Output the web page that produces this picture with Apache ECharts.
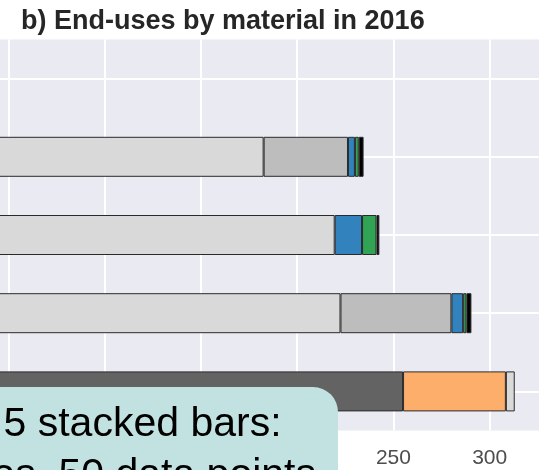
<!DOCTYPE html>
<html>
<head>
<meta charset="utf-8">
<script src="https://cdn.jsdelivr.net/npm/echarts@6/dist/echarts.min.js"></script>
<style>
html,body{margin:0;padding:0;background:#fff;overflow:hidden;width:539px;height:470px;position:relative;}
/* the chart is a crop: its plot area extends beyond the left and right edges of the window */
#chart{position:absolute;left:-88px;top:0;width:674px;height:470px;}
</style>
</head>
<body>
<div id="chart"></div>
<script>
// Categories (materials; their labels lie outside the visible crop)
const categories = ['Material 1', 'Material 2', 'Material 3', 'Material 4', 'Material 5'];
const xTicks = [0, 50, 100, 150, 200, 250, 300, 350];

// Segment values per series (one per category, null = absent)
const lightGrey = [30, 182.6, 219.5, 222.5, null];
const midGrey   = [null, 43.8, null, 57.6, null];
const blue      = [null, 3.6, 14.2, 6.1, null];
const green     = [null, 2.0, 7.5, 1.7, null];
const black     = [null, 2.5, 1.5, 2.6, null];
const darkGrey  = [null, null, null, null, 255];
const orange    = [null, null, null, null, 53.4];
const paleGrey  = [null, null, null, null, 4.6];

const titleText = 'b) End-uses by material in 2016';
const noteLine1 = '5 stacked bars:';
const noteLine2 = '10 series, 50 data points';

const seriesDefs = [
  ['lightGrey', lightGrey, '#d9d9d9'],
  ['midGrey', midGrey, '#bdbdbd'],
  ['blue', blue, '#3182bd'],
  ['green', green, '#31a354'],
  ['black', black, '#000000'],
  ['darkGrey', darkGrey, '#636363'],
  ['orange', orange, '#fdae6b'],
  ['paleGrey', paleGrey, '#d9d9d9']
];

const OFF = 88; // chart canvas starts 88px left of the window
const chart = echarts.init(document.getElementById('chart'), null, {renderer: 'canvas'});
const FONT = 'Liberation Sans, Arial, sans-serif';

chart.setOption({
  animation: false,
  backgroundColor: '#ffffff',
  title: {
    text: titleText,
    left: 21 + OFF,
    top: 8,
    padding: 0,
    textStyle: {fontFamily: FONT, fontSize: 27, fontWeight: 'bold', color: '#262626'}
  },
  grid: {show: true, backgroundColor: '#eaeaf2', borderWidth: 0,
         left: 0, right: 0, top: 39.5, height: 391,
         containLabel: false, outerBoundsMode: 'none'},
  xAxis: {
    type: 'value',
    min: xTicks[0],
    max: xTicks[xTicks.length - 1],
    interval: 50,
    axisLine: {show: false},
    axisTick: {show: false},
    axisLabel: {show: true, margin: 17, fontFamily: FONT, fontSize: 21, color: '#4d4d4d'},
    splitLine: {show: true, lineStyle: {color: '#ffffff', width: 2}}
  },
  yAxis: {
    type: 'category',
    data: categories,
    inverse: true,
    axisLine: {show: false},
    axisTick: {show: false},
    axisLabel: {show: false},
    splitLine: {show: true, alignWithLabel: true, lineStyle: {color: '#ffffff', width: 2}},
    splitArea: {show: false}
  },
  series: seriesDefs.map(([name, vals, color]) => ({
    name: name,
    type: 'bar',
    stack: 'total',
    data: vals,
    barWidth: 40,
    itemStyle: {color: color, borderColor: '#2a2a2a', borderWidth: 1},
    emphasis: {disabled: true}
  })),
  graphic: [
    {
      type: 'rect',
      z: 100,
      shape: {x: -60 + OFF, y: 387, width: 398, height: 160, r: 25},
      style: {fill: '#c1e2e0'}
    },
    {
      type: 'text',
      z: 101,
      style: {text: noteLine1, x: 3.5 + OFF, y: 424.3, font: '41px ' + FONT, fill: '#000', textAlign: 'left', textVerticalAlign: 'middle'}
    },
    {
      type: 'text',
      z: 101,
      style: {text: noteLine2, x: 316 + OFF, y: 476, font: '41px ' + FONT, fill: '#000', textAlign: 'right', textVerticalAlign: 'middle'}
    }
  ]
});
</script>
</body>
</html>
